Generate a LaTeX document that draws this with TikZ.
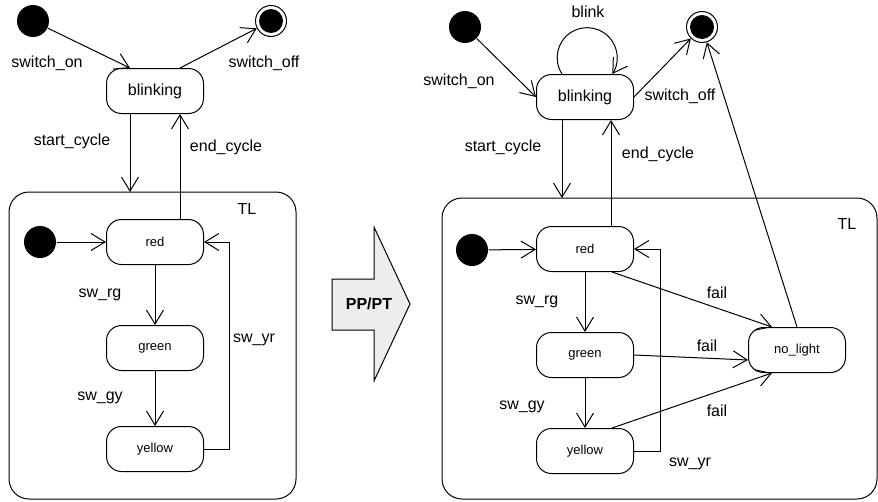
\documentclass[tikz,border=0pt]{standalone}
\usepackage{fontspec}
\setmainfont{Liberation Sans}
\usetikzlibrary{arrows.meta}

\begin{document}
\begin{tikzpicture}[x=1pt, y=-1pt, line width=1pt,
  statebox/.style={draw, rounded corners=15pt, minimum width=97pt, minimum height=45pt,
    inner sep=0pt, font=\fontsize{13}{15}\selectfont},
  startdot/.style={circle, fill=black, minimum size=32pt, inner sep=0pt},
  enddot/.style={circle, draw, fill=white, minimum size=31pt, inner sep=0pt,
    path picture={\fill[black] (path picture bounding box.center) circle (12pt);}},
  trans/.style={-{Straight Barb[length=14pt, width=17pt, line width=1pt]}},
  lbl/.style={font=\fontsize{16}{19}\selectfont},
]
  \useasboundingbox (0,0) rectangle (878,501);

  % ---------- left machine ----------
  \node[startdot] (l-init)  at (33,21) {};
  \node[enddot]   (l-final) at (271,21) {};
  \node[statebox, font=\fontsize{16}{19}\selectfont] (l-blink) at (155,91) {blinking};

  \draw[rounded corners=20pt] (9,192) rectangle (296,499);
  \node[lbl] (l-tl) at (247,209) {TL};

  \node[startdot] (l-sub)    at (40,242)  {};
  \node[statebox] (l-red)    at (155,242) {red};
  \node[statebox] (l-green)  at (155,348) {green};
  \node[statebox] (l-yellow) at (155,449) {yellow};

  % transitions
  \draw[trans] (l-init) -- ([xshift=-25pt]l-blink.north);
  \draw[trans] ([xshift=25pt]l-blink.north) -- (l-final);
  \draw[trans] ([xshift=-25pt]l-blink.south) -- (130,192);
  \draw[trans] ([xshift=25pt]l-red.north) -- ([xshift=25pt]l-blink.south);
  \draw[trans] (l-sub) -- (l-red);
  \draw[trans] (l-red) -- (l-green);
  \draw[trans] (l-green) -- (l-yellow);
  \draw[trans] (l-yellow.east) -- ++(25,0) |- (l-red.east);

  \node[lbl] (l-on)    at (47,63)   {switch\_on};
  \node[lbl] (l-off)   at (264,63)  {switch\_off};
  \node[lbl] (l-start) at (72,141)  {start\_cycle};
  \node[lbl] (l-end)   at (226,147) {end\_cycle};
  \node[lbl] (l-rg)    at (100,295) {sw\_rg};
  \node[lbl] (l-gy)    at (100,398) {sw\_gy};
  \node[lbl] (l-yr)    at (254,340) {sw\_yr};

  % ---------- transformation arrow ----------
  \draw[fill=black!7] (332,279) -- (374,279) -- (374,227) -- (410,304)
    -- (374,381) -- (374,330) -- (332,330) -- cycle;
  \node[font=\fontsize{16}{19}\selectfont\bfseries] (pppt) at (369,304) {PP/PT};

  % ---------- right machine ----------
  \node[startdot] (r-init)  at (465,27) {};
  \node[enddot]   (r-final) at (702,27) {};
  \node[statebox, font=\fontsize{16}{19}\selectfont] (r-blink) at (585,97) {blinking};

  \draw[rounded corners=20pt] (442,198) rectangle (877,499);
  \node[lbl] (r-tl) at (847,224) {TL};

  \node[startdot] (r-sub)     at (472,250) {};
  \node[statebox] (r-red)     at (585,249) {red};
  \node[statebox] (r-green)   at (585,355) {green};
  \node[statebox] (r-yellow)  at (585,451) {yellow};
  \node[statebox] (r-nolight) at (797,350) {no\_light};

  % transitions
  \draw[trans] (r-init) -- (r-blink.west);
  \draw[trans] ([xshift=-23pt]r-blink.north) arc[start angle=147, end angle=393, radius=30];
  \draw[trans] (r-blink.east) -- (r-final);
  \draw[trans] ([xshift=-23pt]r-blink.south) -- (562,198);
  \draw[trans] ([xshift=26pt]r-red.north) -- ([xshift=26pt]r-blink.south);
  \draw[trans] (r-sub) -- (r-red);
  \draw[trans] (r-red) -- (r-green);
  \draw[trans] (r-green) -- (r-yellow);
  \draw[trans] (r-yellow.east) -- ++(26,0) |- (r-red.east);
  \draw[trans] ([xshift=27pt]r-red.south) -- ([xshift=-25pt]r-nolight.north);
  \draw[trans] (r-green.east) -- ([yshift=-10pt]r-nolight.west);
  \draw[trans] ([xshift=27pt]r-yellow.north) -- ([xshift=-25pt]r-nolight.south);
  \draw[trans] (r-nolight.north) -- (r-final);

  \node[lbl] (r-blk)   at (588,12)  {blink};
  \node[lbl] (r-on)    at (459,81)  {switch\_on};
  \node[lbl] (r-off)   at (680,96)  {switch\_off};
  \node[lbl] (r-start) at (503,147) {start\_cycle};
  \node[lbl] (r-end)   at (658,154) {end\_cycle};
  \node[lbl] (r-rg)    at (537,302) {sw\_rg};
  \node[lbl] (r-gy)    at (522,407) {sw\_gy};
  \node[lbl] (r-yr)    at (690,464) {sw\_yr};
  \node[lbl] (r-fail1) at (717,293) {fail};
  \node[lbl] (r-fail2) at (707,346) {fail};
  \node[lbl] (r-fail3) at (717,411) {fail};
\end{tikzpicture}
\end{document}
